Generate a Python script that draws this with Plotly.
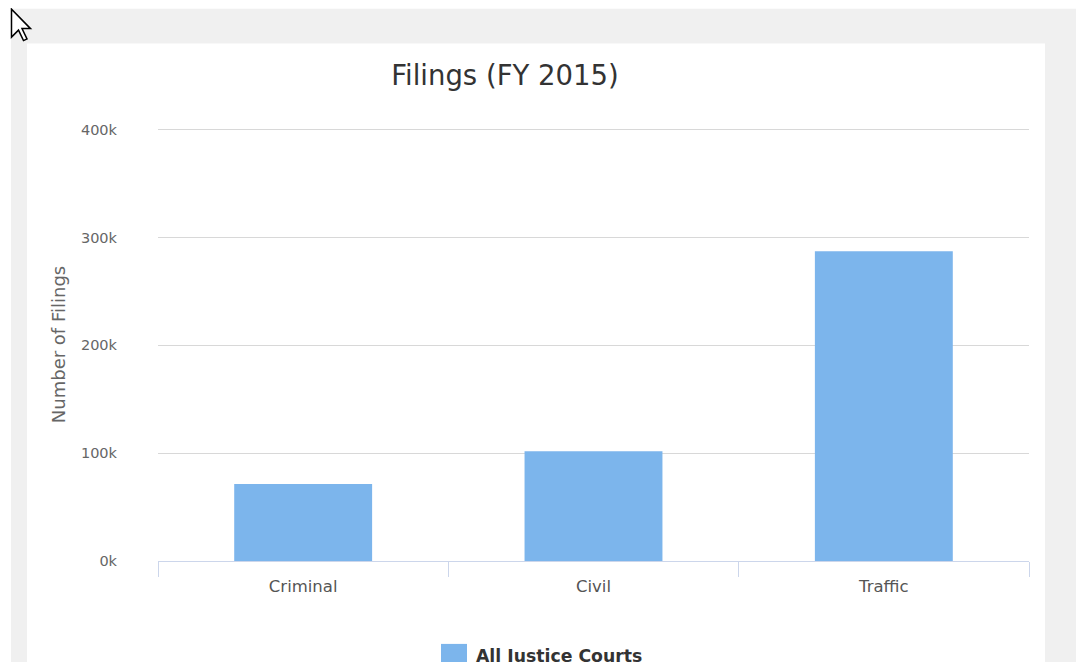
import plotly.graph_objects as go

# ---- data ----
categories = ["Criminal", "Civil", "Traffic"]
filings = [71500, 101800, 287300]
series_name = "All Justice Courts"
y_tick_values = [0, 100000, 200000, 300000, 400000]
y_tick_labels = ["0k", "100k", "200k", "300k", "400k"]
y_max = 401500

# ---- layout geometry (screenshot pixels) ----
OFF = 8                      # page body margin of the browser
SW, SH = 1084, 662           # screenshot size
W, H = SW - OFF, SH - OFF    # figure size
L, R, T, B = 158, 1029, 127.5, 561   # plot area in screenshot pixels
PW, PH = R - L, B - T
FONT = "DejaVu Sans, Verdana, sans-serif"


def px(x):
    return (x - L) / PW


def py(y):
    return (B - y) / PH


fig = go.Figure()
fig.add_trace(go.Bar(
    x=categories, y=filings, name=series_name,
    width=0.475,
    marker=dict(color="#7cb5ec", line=dict(width=0)),
    showlegend=True,
))

shapes = [
    # grey page background region
    dict(type="rect", xref="paper", yref="paper", layer="below",
         x0=px(11), x1=px(SW + 5), y0=py(SH + 5), y1=py(8),
         fillcolor="#f0f0f0", line=dict(width=0)),
    # white chart panel
    dict(type="rect", xref="paper", yref="paper", layer="below",
         x0=px(27), x1=px(1045), y0=py(SH + 5), y1=py(43),
         fillcolor="#ffffff", line=dict(width=0)),
    # enlarged legend swatch (legend's own symbol sits on top of it)
    dict(type="rect", xref="paper", yref="paper", layer="above",
         x0=px(441), x1=px(467), y0=py(670), y1=py(644),
         fillcolor="#7cb5ec", line=dict(width=0)),
]

# mouse cursor (decoration)
cur = [(0, 0), (0, 28), (7, 21), (12, 31.5), (15.5, 29.8), (10.5, 19.5), (19, 19.5)]
ox, oy = 11.5, 8.5
path = "M " + " L ".join(f"{px(ox + a):.5f},{py(oy + b):.5f}" for a, b in cur) + " Z"
shapes.append(dict(type="path", xref="paper", yref="paper", path=path,
                   fillcolor="#ffffff", line=dict(color="#000000", width=1.5)))

fig.update_layout(
    width=W, height=H,
    margin=dict(l=L - OFF, r=SW - R, t=T - OFF, b=SH - B, pad=0, autoexpand=False),
    paper_bgcolor="#ffffff",
    plot_bgcolor="rgba(0,0,0,0)",
    font=dict(family=FONT, color="#666666"),
    title=dict(text="Filings (FY 2015)", xref="container", yref="container",
               x=(505 - OFF) / W, xanchor="center", y=1 - (75 - OFF) / H,
               yanchor="middle",
               font=dict(size=27.5, color="#333333", family=FONT)),
    xaxis=dict(
        range=[-0.5, 2.5], tickson="boundaries", ticks="outside", ticklen=15,
        tickcolor="#ccd6eb", tickwidth=1, showline=True, linecolor="#ccd6eb",
        linewidth=1, showgrid=False, zeroline=False, ticklabelstandoff=10,
        tickfont=dict(size=16.5, color="#555555", family=FONT),
    ),
    yaxis=dict(
        range=[0, y_max], tickvals=y_tick_values, ticktext=y_tick_labels,
        showgrid=True, gridcolor="#d8d8d8", gridwidth=1, zeroline=False,
        showline=False, ticks="", ticklabelstandoff=40,
        tickfont=dict(size=14.5, color="#666666", family=FONT),
        title=dict(text="Number of Filings", standoff=10,
                   font=dict(size=18, color="#666666", family=FONT)),
    ),
    legend=dict(orientation="h", xanchor="left", x=px(436), yanchor="middle",
                y=py(656), font=dict(size=17.3, color="#333333",
                                      family=FONT, weight="bold"),
                bgcolor="rgba(0,0,0,0)", borderwidth=0),
    shapes=shapes,
)

fig.write_html("out.html")
